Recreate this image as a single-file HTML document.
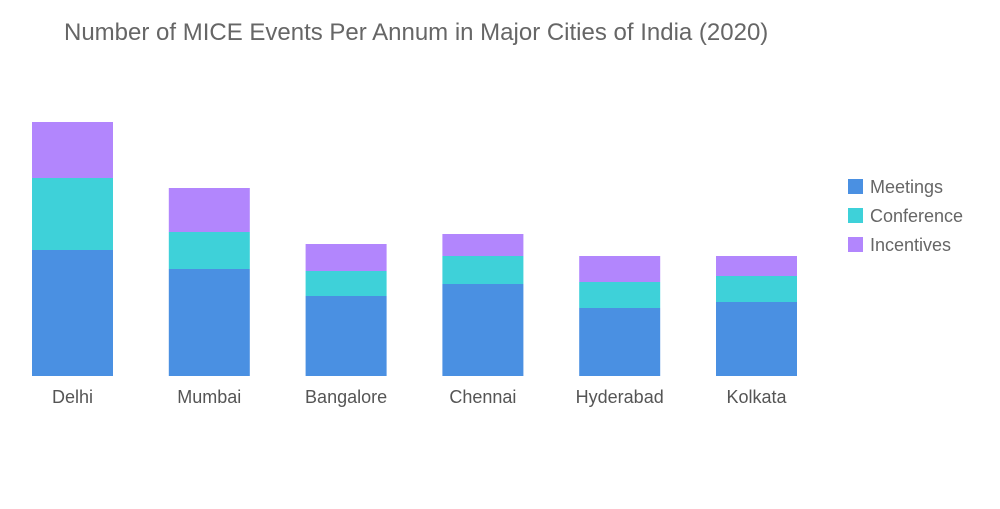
<!DOCTYPE html>
<html><head><meta charset="utf-8"><style>
body{margin:0;background:#fff;width:1000px;height:504px;overflow:hidden;font-family:"Liberation Sans",sans-serif}
</style></head><body>
<svg width="1000" height="504">
<text x="64" y="40" font-size="24" fill="#666">Number of MICE Events Per Annum in Major Cities of India (2020)</text>
<g id="bars"></g>
<g id="labels"></g>
<g id="legend"></g>
</svg>
<script>
const categories=["Delhi","Mumbai","Bangalore","Chennai","Hyderabad","Kolkata"];
const meetings=[126,107,80,92,68,74];
const conference=[72,37,25,28,26,26];
const incentives=[56,44,27,22,26,20];
const seriesNames=["Meetings","Conference","Incentives"];
const colors=["#4a90e2","#3ed1d9","#b286fd"];
const series=[meetings,conference,incentives];
const base=376, x0=32, step=136.8, bw=81, scale=1;
const y=v=>base-v*scale;
const NS="http://www.w3.org/2000/svg";
const bars=document.getElementById('bars'), labels=document.getElementById('labels'), legend=document.getElementById('legend');
categories.forEach((c,i)=>{
  let acc=0;
  series.forEach((s,k)=>{
    const r=document.createElementNS(NS,'rect');
    r.setAttribute('x',x0+i*step);
    r.setAttribute('y',y(acc+s[i]));
    r.setAttribute('width',bw);
    r.setAttribute('height',s[i]*scale);
    r.setAttribute('fill',colors[k]);
    
    
    bars.appendChild(r);
    acc+=s[i];
  });
  const t=document.createElementNS(NS,'text');
  t.setAttribute('x',x0+i*step+bw/2);
  t.setAttribute('y',403);
  t.setAttribute('text-anchor','middle');
  t.setAttribute('font-size','18');
  t.setAttribute('fill','#555');
  t.textContent=c;
  
  
  labels.appendChild(t);
});
seriesNames.forEach((n,k)=>{
  const r=document.createElementNS(NS,'rect');
  r.setAttribute('x',848);r.setAttribute('y',179+k*29);
  r.setAttribute('width',15);r.setAttribute('height',15);
  r.setAttribute('fill',colors[k]);
  
  
  legend.appendChild(r);
  const t=document.createElementNS(NS,'text');
  t.setAttribute('x',870);t.setAttribute('y',193+k*29);
  t.setAttribute('font-size','18');t.setAttribute('fill','#666');
  t.textContent=n;
  
  
  legend.appendChild(t);
});
</script>
</body></html>
